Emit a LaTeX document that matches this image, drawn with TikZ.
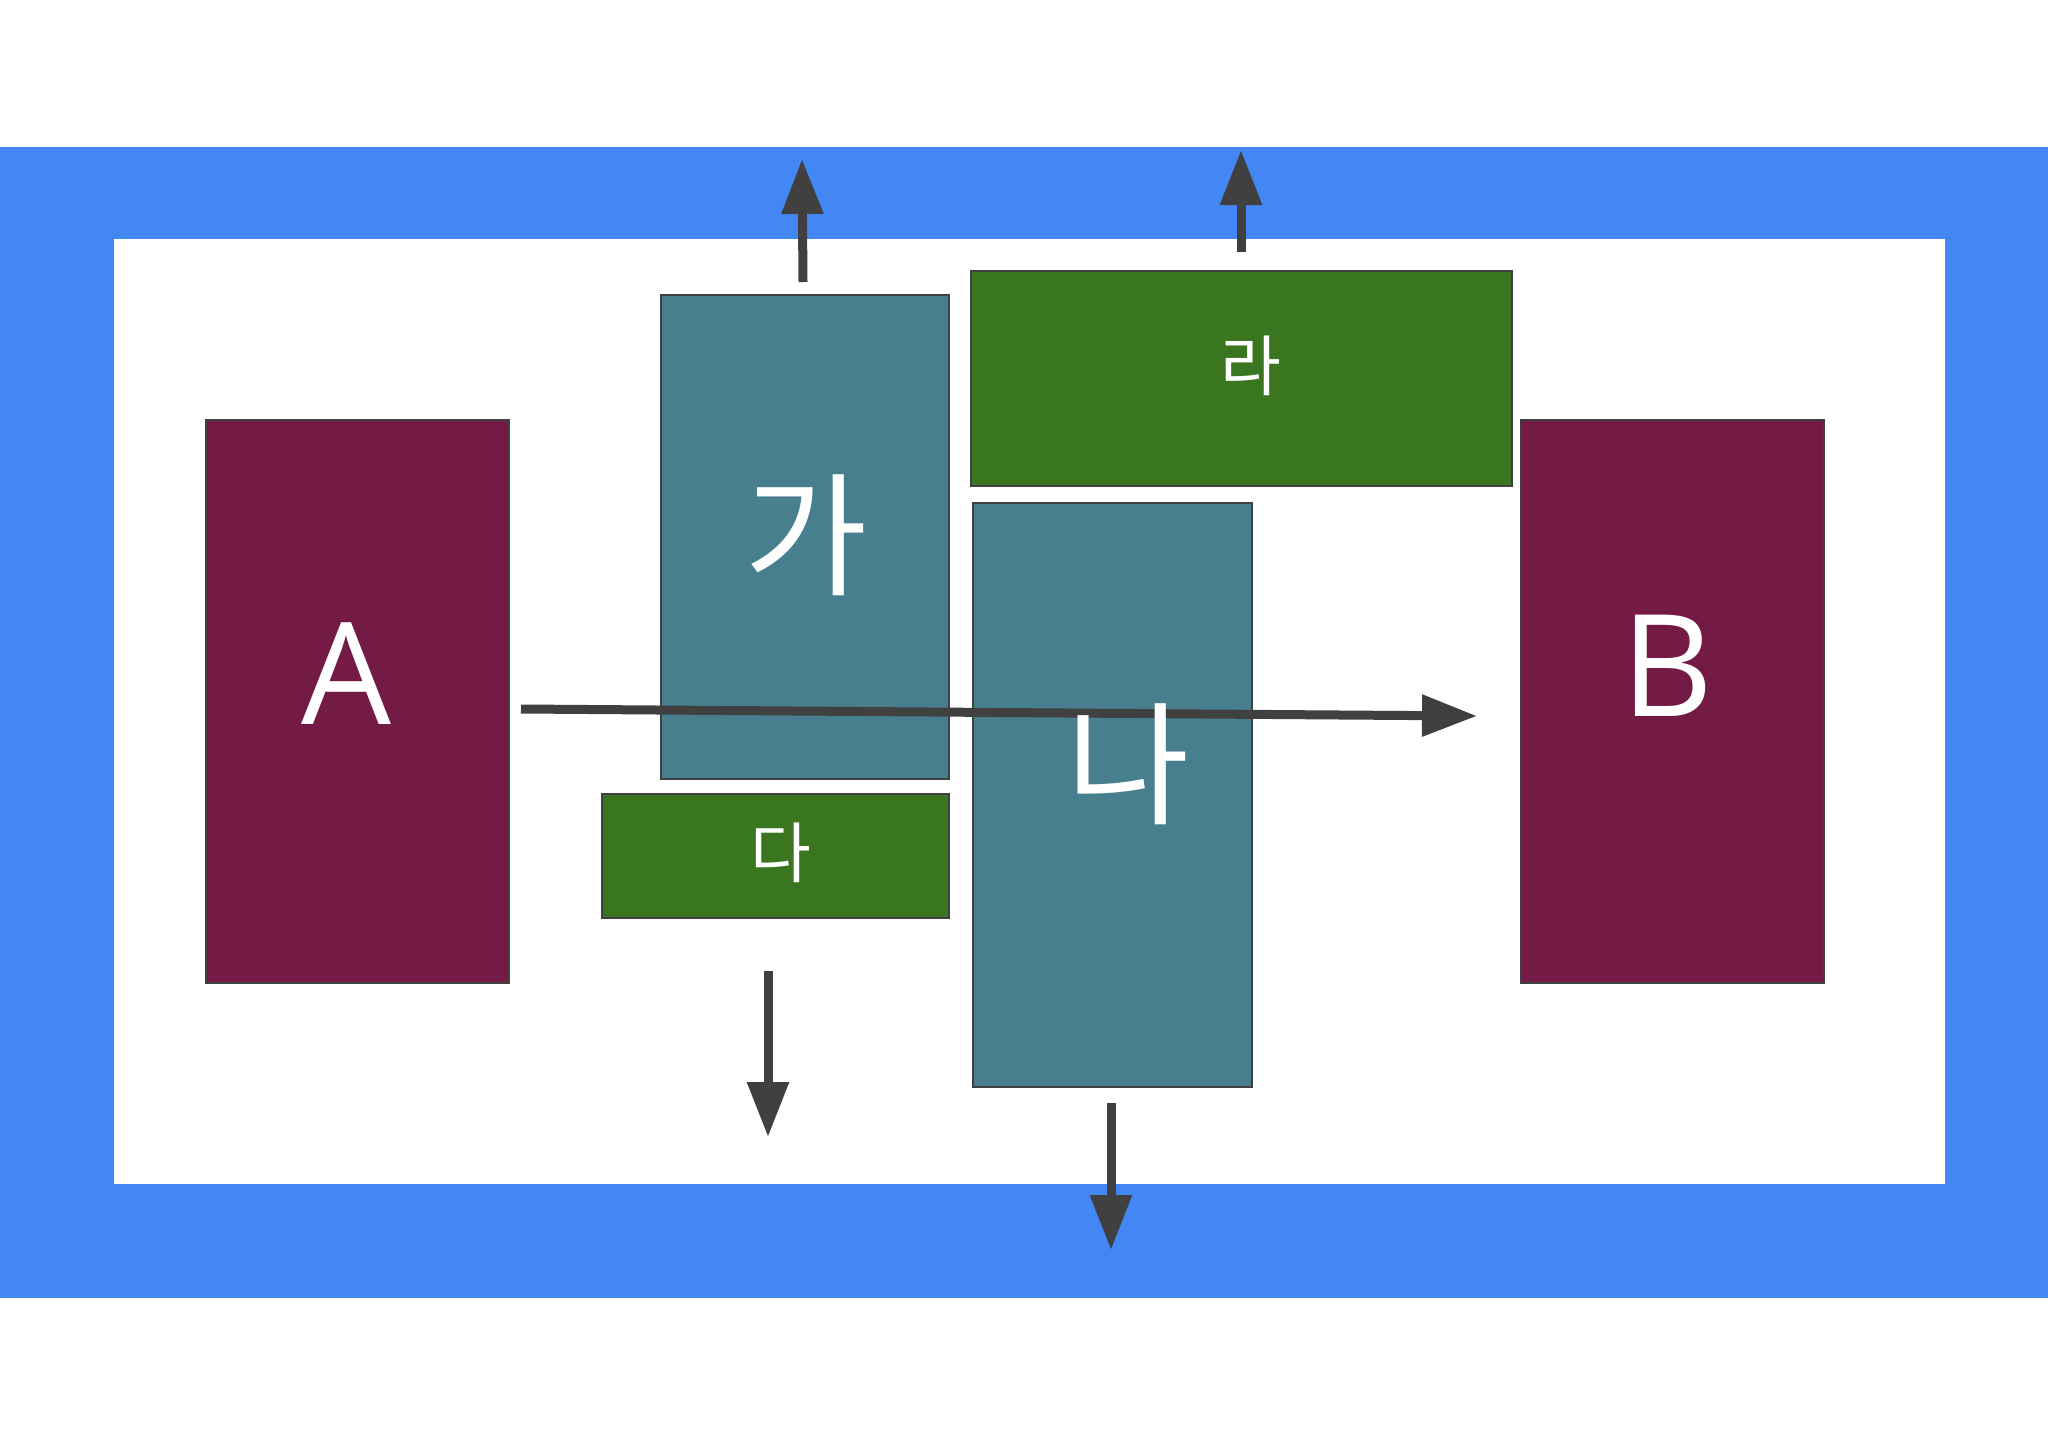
\documentclass[tikz,border=0pt]{standalone}
\usepackage{fontspec}
\setmainfont{Open Sans}
\newfontfamily\kr{Noto Sans CJK KR}
\usetikzlibrary{arrows.meta}
\definecolor{bandblue}{HTML}{4387F4}
\definecolor{tealc}{HTML}{487F8E}
\definecolor{greenc}{HTML}{3A761F}
\definecolor{maroonc}{HTML}{731B45}
\definecolor{arrowc}{HTML}{404040}
\begin{document}
\begin{tikzpicture}[x=1pt,y=-1pt,
  box/.style={draw=arrowc, line width=2pt, inner sep=0pt, anchor=north west},
  arr/.style={draw=arrowc, line width=9pt, -{Triangle[length=55pt,width=40pt]}},
  bigtxt/.style={text=white, inner sep=0pt, font=\fontsize{142}{150}\selectfont},
  krbig/.style={text=white, inner sep=0pt, font=\kr\fontsize{134}{140}\selectfont},
  krsmall/.style={text=white, inner sep=0pt, font=\kr\fontsize{66}{70}\selectfont}]
\useasboundingbox (0,0) rectangle (2048,1448);
\fill[white] (0,0) rectangle (2048,1448);
\fill[bandblue] (0,147) rectangle (2048,1298);
\fill[white] (114,239) rectangle (1945,1184);
% boxes
\node[box, fill=maroonc, minimum width=303pt, minimum height=563pt] (A) at (205,419) {};
\node[box, fill=maroonc, minimum width=303pt, minimum height=563pt] (B) at (1520,419) {};
\node[box, fill=tealc, minimum width=288pt, minimum height=484pt] (ga) at (660,294) {};
\node[box, fill=greenc, minimum width=347pt, minimum height=124pt] (da) at (601,793) {};
\node[box, fill=greenc, minimum width=541pt, minimum height=215pt] (ra) at (970,270) {};
\node[box, fill=tealc, minimum width=279pt, minimum height=584pt] (na) at (972,502) {};
% arrow coordinates
\coordinate (hs) at (521,709);
\coordinate (he) at (1477,716);
\coordinate (u1s) at (803,282);
\coordinate (u1e) at (802,159);
\coordinate (u2s) at (1241,252);
\coordinate (u2e) at (1241,150);
\coordinate (d1s) at (768,971);
\coordinate (d1e) at (768,1137);
\coordinate (d2s) at (1111,1103);
\coordinate (d2e) at (1111,1250);
\draw[arr] (hs) -- (he);
\draw[arr] (u1s) -- (u1e);
\draw[arr] (u2s) -- (u2e);
\draw[arr] (d1s) -- (d1e);
\draw[arr] (d2s) -- (d2e);
% labels
\node[bigtxt] (tA) at (346,674) {A};
\node[bigtxt] (tB) at (1667,666) {B};
\node[krbig] (tga) at (806,535) {가};
\node[krbig] (tna) at (1128,764) {나};
\node[krsmall] (tda) at (781,853) {다};
\node[krsmall] (tra) at (1251,366) {라};
\end{tikzpicture}
\end{document}
